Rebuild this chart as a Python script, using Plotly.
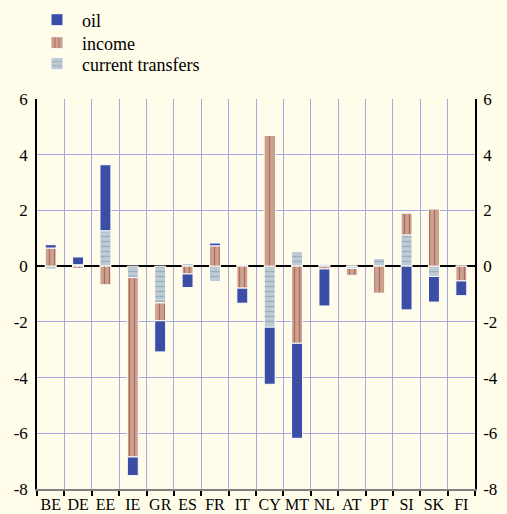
import plotly.graph_objects as go

categories = ["BE", "DE", "EE", "IE", "GR", "ES", "FR", "IT", "CY", "MT", "NL", "AT", "PT", "SI", "SK", "FI"]
oil = [0.12, 0.28, 2.37, -0.67, -1.12, -0.49, 0.10, -0.54, -2.05, -3.41, -1.33, 0.0, 0.0, -1.57, -0.92, -0.53]
income = [0.65, -0.08, -0.67, -6.44, -0.64, -0.28, 0.73, -0.79, 4.69, -2.77, -0.10, -0.25, -0.97, 0.78, 2.05, -0.53]
current_transfers = [-0.11, 0.05, 1.27, -0.41, -1.32, 0.10, -0.55, 0.05, -2.19, 0.52, 0.07, -0.08, 0.28, 1.12, -0.37, 0.0]
y_ticks = [-8, -6, -4, -2, 0, 2, 4, 6]
y_tick_labels = ["-8", "-6", "-4", "-2", "0", "2", "4", "6"]

W, H = 507, 514
BG = "#FFFDEA"
GRID = "#A8A8E4"
FONT = "Liberation Serif, Times New Roman, serif"

fig = go.Figure()
fig.add_trace(go.Bar(
    x=categories, y=current_transfers, name="current transfers", legend="legend3",
    marker=dict(color="#BFCCD3", line=dict(color="white", width=1),
                pattern=dict(shape="-", bgcolor="#BFCCD3", fgcolor="#7893A5", size=5, solidity=0.3)),
))
fig.add_trace(go.Bar(
    x=categories, y=income, name="income", legend="legend2",
    marker=dict(color="#CBA18F", line=dict(color="white", width=1),
                pattern=dict(shape="|", bgcolor="#CBA18F", fgcolor="#9A3528", size=5, solidity=0.25)),
))
fig.add_trace(go.Bar(
    x=categories, y=oil, name="oil", legend="legend",
    marker=dict(color="#3B4EA6", line=dict(color="white", width=1)),
))
fig.add_trace(go.Scatter(x=categories, y=[None] * len(categories), yaxis="y2",
                         showlegend=False, hoverinfo="skip"))


def leg(ycenter_px):
    return dict(xref="container", yref="container", x=32 / W, y=1 - ycenter_px / H,
                xanchor="left", yanchor="middle", bgcolor="rgba(0,0,0,0)",
                font=dict(family=FONT, size=18), itemwidth=40)


fig.update_layout(
    width=W, height=H,
    margin=dict(l=37, r=32, t=99, b=25, autoexpand=False),
    paper_bgcolor=BG, plot_bgcolor=BG,
    barmode="relative", bargap=0.6,
    font=dict(family=FONT, size=16, color="black"),
    showlegend=True,
    legend=leg(20), legend2=leg(43), legend3=leg(64),
    xaxis=dict(type="category", tickson="boundaries", ticks="outside", ticklen=5,
               tickcolor="black", tickwidth=1.5, showline=True, linecolor="#808080", linewidth=2,
               showgrid=True, gridcolor=GRID, gridwidth=1, tickangle=0,
               tickfont=dict(family=FONT, size=16), range=[-0.5, 15.5]),
    yaxis=dict(range=[-8, 6], tickvals=y_ticks, ticktext=y_tick_labels,
               showgrid=True, gridcolor=GRID, gridwidth=1,
               zeroline=True, zerolinecolor="black", zerolinewidth=1.5,
               showline=True, linecolor="black", linewidth=1.5, ticks="",
               ticklabelstandoff=4, tickfont=dict(family=FONT, size=17)),
    yaxis2=dict(range=[-8, 6], tickvals=y_ticks, ticktext=y_tick_labels,
                overlaying="y", side="right", anchor="x",
                showgrid=False, zeroline=False, showline=True, linecolor="black", linewidth=1.5,
                ticks="", ticklabelstandoff=3, tickfont=dict(family=FONT, size=17)),
)

fig.write_html("out.html", config={"displayModeBar": False},
               post_script="document.body.style.margin='0px';")
